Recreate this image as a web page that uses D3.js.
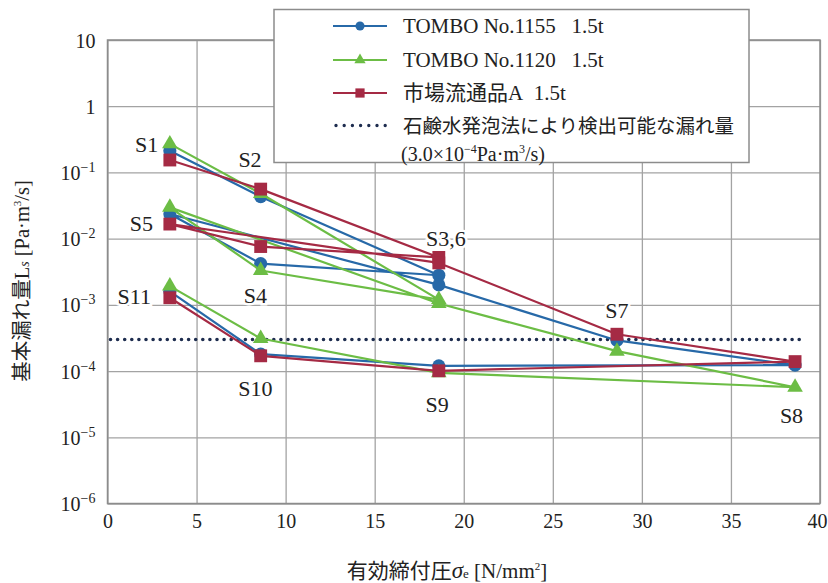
<!DOCTYPE html>
<html>
<head>
<meta charset="utf-8">
<script src="https://cdn.jsdelivr.net/npm/d3@7"></script>
<style>
  body { margin: 0; background: #fff; }
  svg text { font-family: "Liberation Serif", "Noto Sans CJK JP", serif !important; fill: #222; }
</style>
</head>
<body>
<div id="chart"></div>
<script>
// test order S1..S11 (load / unload cycle), effective clamping pressure
var sampleNames = ["S1", "S2", "S3", "S4", "S5", "S6", "S7", "S8", "S9", "S10", "S11"];
var pressure = [3.5, 8.6, 18.6, 8.6, 3.5, 18.6, 28.6, 38.6, 18.6, 8.6, 3.5];

// leak rate Pa·m3/s
var tombo1155 = [0.213, 0.043, 0.0028, 0.0042, 0.0236, 0.0020, 2.9e-4, 1.23e-4, 1.2e-4, 1.8e-4, 1.6e-3];
var tombo1120 = [0.27, 0.048, 0.0012, 0.0033, 0.0297, 0.00105, 2.0e-4, 5.7e-5, 9.4e-5, 3.1e-4, 1.92e-3];
var marketA = [0.154, 0.056, 0.0052, 0.0076, 0.0166, 0.0043, 3.6e-4, 1.39e-4, 1.01e-4, 1.7e-4, 1.28e-3];

var seriesNames = ["TOMBO No.1155\u00a0\u00a0 1.5t", "TOMBO No.1120\u00a0\u00a0 1.5t", "市場流通品A\u00a0\u00a01.5t"];
var thresholdName = "石鹸水発泡法により検出可能な漏れ量";
var threshold = 3.0e-4;

var xTicks = [0, 5, 10, 15, 20, 25, 30, 35, 40];
var yTicks = [1e-6, 1e-5, 1e-4, 1e-3, 1e-2, 1e-1, 1, 10];

// point label annotations (data space)
var labelText = ["S1", "S2", "S3,6", "S5", "S4", "S11", "S10", "S9", "S7", "S8"];
var labelX = [2.2, 8.0, 19.0, 1.9, 8.3, 1.5, 8.3, 18.5, 28.6, 38.4];
var labelY = [0.203, 0.121, 0.0077, 0.013, 0.00107, 0.00103, 4.2e-5, 2.4e-5, 6.3e-4, 1.64e-5];

var svgWidth = 828;
var svgHeight = 583;
var margin = { top: 40, right: 8, bottom: 79.5, left: 107.5 };
var width = svgWidth - margin.left - margin.right;
var height = svgHeight - margin.top - margin.bottom;

var svg = d3.select("#chart").append("svg")
  .attr("width", svgWidth)
  .attr("height", svgHeight)
  .attr("font-family", "Liberation Serif, Noto Sans CJK JP, serif");

svg.append("rect").attr("width", svgWidth).attr("height", svgHeight).attr("fill", "#fff");

var chartGroup = svg.append("g")
  .attr("transform", `translate(${margin.left}, ${margin.top})`);

var xScale = d3.scaleLinear().domain([0, 40]).range([0, width]);
var yScale = d3.scaleLog().domain([1e-6, 10]).range([height, 0]);

// grid + x axis
var xAxis = chartGroup.append("g")
  .attr("transform", `translate(0, ${height})`)
  .call(d3.axisBottom(xScale).tickValues(xTicks).tickSize(-height).tickFormat(d3.format("d")));
xAxis.attr("font-family", null);
xAxis.select(".domain").remove();
xAxis.selectAll("line").attr("stroke", "#a3a3a3").attr("stroke-width", 1.3);
xAxis.selectAll("text")
  .attr("y", 24)
  .attr("dy", 0)
  .attr("dx", d => d === 40 ? -3 : 0)
  .style("font-size", "20px")
  .attr("fill", "#222");

// grid + y axis
var yAxis = chartGroup.append("g")
  .call(d3.axisLeft(yScale).tickValues(yTicks).tickSize(-width).tickFormat(""));
yAxis.attr("font-family", null);
yAxis.select(".domain").remove();
yAxis.selectAll("line").attr("stroke", "#a3a3a3").attr("stroke-width", 1.3);
yAxis.selectAll(".tick").each(function (d) {
  var t = d3.select(this).append("text")
    .attr("x", -12)
    .attr("y", 7)
    .attr("text-anchor", "end")
    .style("font-size", "20px");
  var p = Math.round(Math.log10(d));
  if (p === 0) t.text("1");
  else if (p === 1) t.text("10");
  else {
    t.append("tspan").text("10");
    t.append("tspan").attr("dy", -8).style("font-size", "14px").text("\u2212" + (-p));
  }
});

// frame
chartGroup.append("rect")
  .attr("width", width).attr("height", height)
  .attr("fill", "none").attr("stroke", "#8c8c8c").attr("stroke-width", 1.5);

// detectable limit (dotted)
chartGroup.append("line")
  .attr("x1", xScale(0) + 3).attr("x2", xScale(39))
  .attr("y1", yScale(threshold)).attr("y2", yScale(threshold))
  .attr("stroke", "#1e2d4f").attr("stroke-width", 3.6)
  .attr("stroke-linecap", "round").attr("stroke-dasharray", "0,7.1");

var series = [
  { name: seriesNames[0], values: tombo1155, color: "#2769a8", symbol: d3.symbolCircle, size: 135, legendSize: 65 },
  { name: seriesNames[1], values: tombo1120, color: "#6cbd45", symbol: d3.symbolTriangle, size: 105, legendSize: 55 },
  { name: seriesNames[2], values: marketA, color: "#a52a44", symbol: d3.symbolSquare, size: 165, legendSize: 85 }
];

var line = d3.line()
  .x((d, i) => xScale(pressure[i]))
  .y(d => yScale(d));

series.forEach(function (s) {
  chartGroup.append("path")
    .datum(s.values)
    .attr("d", line)
    .attr("fill", "none")
    .attr("stroke", s.color)
    .attr("stroke-width", 2.2)
    .attr("stroke-linejoin", "round");
  chartGroup.selectAll(null)
    .data(s.values)
    .enter()
    .append("path")
    .attr("d", d3.symbol().type(s.symbol).size(s.size))
    .attr("transform", (d, i) => `translate(${xScale(pressure[i])}, ${yScale(d)})`)
    .attr("fill", s.color);
});

// sample labels
labelText.forEach(function (t, i) {
  chartGroup.append("text")
    .attr("x", xScale(labelX[i]))
    .attr("y", yScale(labelY[i]))
    .attr("text-anchor", "middle")
    .style("font-size", "22px")
    .attr("stroke", "#fff").attr("stroke-width", 5).attr("paint-order", "stroke")
    .text(t);
});

// legend
var legend = svg.append("g").attr("transform", "translate(274, 9.5)");
legend.append("rect")
  .attr("width", 475).attr("height", 153)
  .attr("fill", "#fff").attr("stroke", "#8c8c8c").attr("stroke-width", 1.5);

var rowY = [16.5, 50.5, 83.5];
series.forEach(function (s, i) {
  legend.append("line")
    .attr("x1", 59).attr("x2", 113).attr("y1", rowY[i]).attr("y2", rowY[i])
    .attr("stroke", s.color).attr("stroke-width", 2.2);
  legend.append("path")
    .attr("d", d3.symbol().type(s.symbol).size(s.legendSize))
    .attr("transform", `translate(86, ${rowY[i]})`)
    .attr("fill", s.color);
  legend.append("text")
    .attr("x", 129).attr("y", rowY[i] + 7)
    .style("font-size", "21px")
    .text(s.name);
});
legend.append("line")
  .attr("x1", 62).attr("x2", 112).attr("y1", 116).attr("y2", 116)
  .attr("stroke", "#1e2d4f").attr("stroke-width", 3.4)
  .attr("stroke-linecap", "round").attr("stroke-dasharray", "0,8.2");
legend.append("text")
  .attr("x", 129).attr("y", 123)
  .style("font-size", "19.5px")
  .text(thresholdName);
var unitText = legend.append("text")
  .attr("x", 127).attr("y", 151)
  .style("font-size", "20px");
unitText.append("tspan").text("(3.0×10");
unitText.append("tspan").attr("dy", -8).style("font-size", "12px").text("\u2212" + "4");
unitText.append("tspan").attr("dy", 8).text("Pa·m");
unitText.append("tspan").attr("dy", -8).style("font-size", "12px").text("3");
unitText.append("tspan").attr("dy", 8).text("/s)");

// y title
var yTitle = svg.append("text")
  .attr("transform", "translate(29, 281) rotate(-90)")
  .attr("text-anchor", "middle")
  .style("font-size", "20.5px");
yTitle.append("tspan").text("基本漏れ量L");
yTitle.append("tspan").style("font-size", "14px").style("font-style", "italic").text("s");
yTitle.append("tspan").text(" [Pa·m");
yTitle.append("tspan").attr("dy", -8).style("font-size", "11px").text("3");
yTitle.append("tspan").attr("dy", 8).text("/s]");

// x title
var xTitle = svg.append("text")
  .attr("x", 447).attr("y", 578)
  .attr("text-anchor", "middle")
  .style("font-size", "21px");
xTitle.append("tspan").text("有効締付圧");
xTitle.append("tspan").style("font-style", "italic").style("font-size", "23px").text("σ");
xTitle.append("tspan").style("font-size", "13px").text("e");
xTitle.append("tspan").text(" [N/mm");
xTitle.append("tspan").attr("dy", -8).style("font-size", "11px").text("2");
xTitle.append("tspan").attr("dy", 8).text("]");
</script>
</body>
</html>
